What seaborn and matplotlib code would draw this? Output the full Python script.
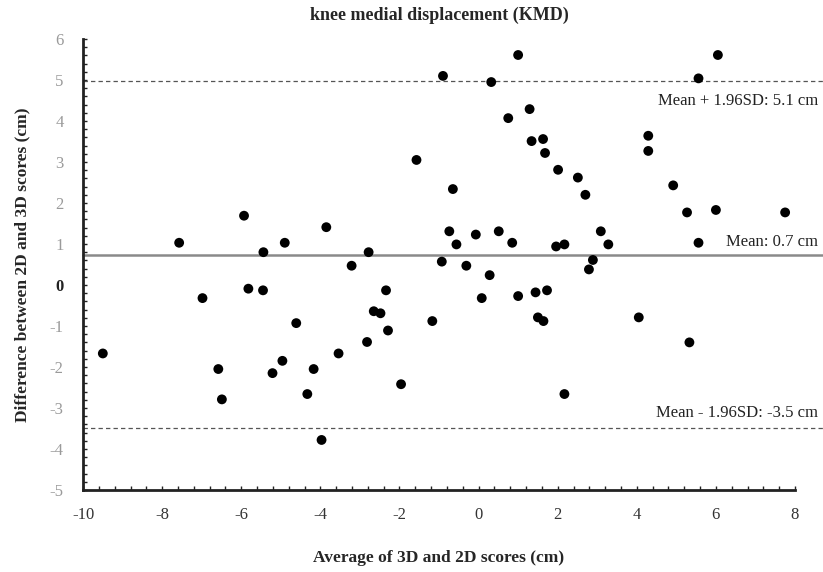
import numpy as np
import pandas as pd
import matplotlib
matplotlib.use("Agg")
import matplotlib.pyplot as plt
import matplotlib.transforms as mtransforms
from matplotlib.ticker import MultipleLocator
import seaborn as sns

# Bland-Altman data
avg_scores = [
    -9.50, -7.57, -6.98, -6.58, -6.49, -5.93, -5.82, -5.44, -5.45, -5.21,
    -4.96, -4.90, -4.61, -4.33, -4.17, -3.97, -3.85, -3.54, -3.21, -2.82,
    -2.78, -2.65, -2.48, -2.34, -2.29, -1.96, -1.57, -1.17, -0.93, -0.90,
    -0.74, -0.65, -0.56, -0.31, -0.07, 0.08, 0.28, 0.32, 0.51, 0.75,
    0.85, 1.00, 1.00, 1.29, 1.34, 1.44, 1.50, 1.63, 1.64, 1.68,
    1.73, 1.96, 2.01, 2.17, 2.17, 2.51, 2.70, 2.79, 2.89, 3.09,
    3.28, 4.05, 4.29, 4.29, 4.92, 5.27, 5.33, 5.56, 5.56, 6.00,
    6.05, 7.75,
]
diff_scores = [
    -1.67, 1.03, -0.32, -2.05, -2.79, 1.69, -0.09, 0.80, -0.13, -2.15,
    -1.85, 1.03, -0.93, -2.66, -2.05, -3.78, 1.41, -1.67, 0.47, -1.39,
    0.80, -0.64, -0.69, -0.13, -1.11, -2.42, 3.05, -0.88, 0.57, 5.10,
    1.31, 2.34, 0.99, 0.47, 1.23, -0.32, 0.24, 4.95, 1.31, 4.07,
    1.03, 5.61, -0.27, 4.29, 3.51, -0.18, -0.79, 3.56, -0.88, 3.22,
    -0.13, 0.94, 2.81, 0.99, -2.66, 2.62, 2.20, 0.38, 0.61, 1.31,
    0.99, -0.79, 3.64, 3.27, 2.43, 1.77, -1.40, 5.04, 1.03, 1.83,
    5.61, 1.77,
]
mean_diff = 0.73
upper_loa = 4.97
lower_loa = -3.5

df = pd.DataFrame({"avg": avg_scores, "diff": diff_scores})

sns.set_style("ticks")
plt.rcParams["font.family"] = ["Liberation Serif", "DejaVu Serif"]
plt.rcParams["axes.unicode_minus"] = False

fig = plt.figure(figsize=(8.23, 5.72), dpi=100)
ax = fig.add_axes([0.1009, 0.1434, 0.8651, 0.7884])

sns.scatterplot(data=df, x="avg", y="diff", color="black", s=50,
                edgecolor="none", ax=ax, zorder=3, clip_on=False)

# reference lines run a little past the axis end
ax.axhline(mean_diff, xmin=0, xmax=1.04, color="#8a8a8a", lw=1.8,
           clip_on=False, zorder=2)
for v in (upper_loa, lower_loa):
    ax.axhline(v, xmin=0, xmax=1.04, color="#555555", lw=0.9,
               ls=(0, (3.5, 2.5)), clip_on=False, zorder=2)

trans = mtransforms.blended_transform_factory(ax.transAxes, ax.transData)
txt_kw = dict(xycoords=trans, textcoords="offset points", ha="right",
              va="center", fontsize=12, color="#222222", annotation_clip=False)
ax.annotate("Mean + 1.96SD: 5.1 cm", xy=(1.032, upper_loa), xytext=(0, -14), **txt_kw)
ax.annotate("Mean: 0.7 cm", xy=(1.032, mean_diff), xytext=(0, 9.5), **txt_kw)
ax.annotate("Mean - 1.96SD: -3.5 cm", xy=(1.032, lower_loa), xytext=(0, 11), **txt_kw)

ax.set_xlim(-10, 8)
ax.set_ylim(-5, 6)
ax.xaxis.set_major_locator(MultipleLocator(2))
ax.xaxis.set_minor_locator(MultipleLocator(0.4))
ax.yaxis.set_major_locator(MultipleLocator(1))
ax.yaxis.set_minor_locator(MultipleLocator(0.2))
ax.tick_params(which="both", direction="in", color="#222222", width=1.0, length=3)
ax.tick_params(axis="y", which="major", pad=14, labelsize=12, labelcolor="#9a9a9a")
ax.tick_params(axis="x", which="major", pad=12, labelsize=12, labelcolor="#333333")
for lab in ax.get_yticklabels():
    if lab.get_text() == "0":
        lab.set_color("#222222")
        lab.set_fontweight("bold")

for side in ("top", "right"):
    ax.spines[side].set_visible(False)
for side in ("left", "bottom"):
    ax.spines[side].set_linewidth(2.0)
    ax.spines[side].set_color("#222222")

ax.set_xlabel("Average of 3D and 2D scores (cm)", fontsize=12.5, fontweight="bold",
              labelpad=20)
ax.set_ylabel("Difference between 2D and 3D scores (cm)", fontsize=12.5,
              fontweight="bold", labelpad=14)
ax.set_title("knee medial displacement (KMD)", fontsize=13, fontweight="bold",
             pad=14)

fig.savefig("out.png", dpi=100)
